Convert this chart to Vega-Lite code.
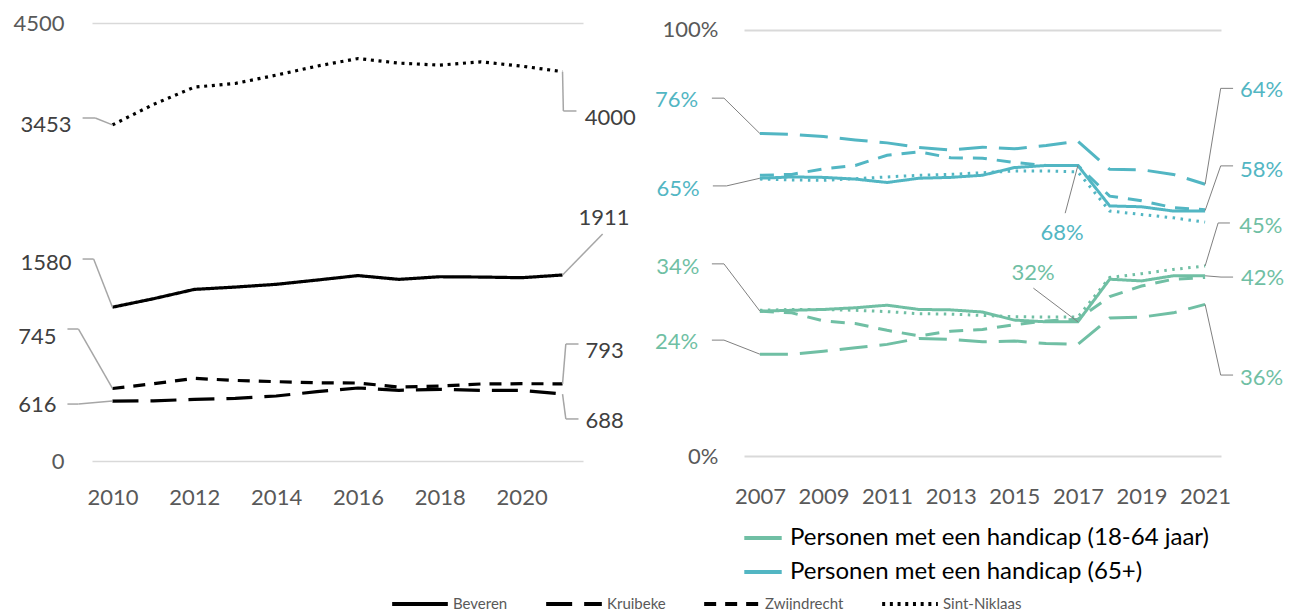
{
  "$schema": "https://vega.github.io/schema/vega-lite/v6.json",
  "background": "white",
  "padding": {"left": 12, "top": 12, "right": 0, "bottom": 0},
  "bounds": "flush",
  "spacing": 161,
  "config": {
    "view": {"stroke": null},
    "font": "Lato",
    "axis": {"labelFont": "Lato", "labelFontSize": 22, "labelColor": "#595959", "ticks": false, "domain": false},
    "text": {"font": "Lato"}
  },
  "resolve": {"scale": {"color": "independent", "strokeDash": "independent"}, "legend": {"color": "independent", "strokeDash": "independent"}},
  "datasets": {
    "abs": [
      {"gemeente": "Beveren", "jaar": 2010, "aantal": 1580},
      {"gemeente": "Beveren", "jaar": 2011, "aantal": 1667},
      {"gemeente": "Beveren", "jaar": 2012, "aantal": 1763},
      {"gemeente": "Beveren", "jaar": 2013, "aantal": 1787},
      {"gemeente": "Beveren", "jaar": 2014, "aantal": 1815},
      {"gemeente": "Beveren", "jaar": 2015, "aantal": 1859},
      {"gemeente": "Beveren", "jaar": 2016, "aantal": 1905},
      {"gemeente": "Beveren", "jaar": 2017, "aantal": 1866},
      {"gemeente": "Beveren", "jaar": 2018, "aantal": 1893},
      {"gemeente": "Beveren", "jaar": 2019, "aantal": 1890},
      {"gemeente": "Beveren", "jaar": 2020, "aantal": 1883},
      {"gemeente": "Beveren", "jaar": 2021, "aantal": 1911},
      {"gemeente": "Kruibeke", "jaar": 2010, "aantal": 616},
      {"gemeente": "Kruibeke", "jaar": 2011, "aantal": 618},
      {"gemeente": "Kruibeke", "jaar": 2012, "aantal": 633},
      {"gemeente": "Kruibeke", "jaar": 2013, "aantal": 644},
      {"gemeente": "Kruibeke", "jaar": 2014, "aantal": 668},
      {"gemeente": "Kruibeke", "jaar": 2015, "aantal": 712},
      {"gemeente": "Kruibeke", "jaar": 2016, "aantal": 750},
      {"gemeente": "Kruibeke", "jaar": 2017, "aantal": 726},
      {"gemeente": "Kruibeke", "jaar": 2018, "aantal": 736},
      {"gemeente": "Kruibeke", "jaar": 2019, "aantal": 726},
      {"gemeente": "Kruibeke", "jaar": 2020, "aantal": 726},
      {"gemeente": "Kruibeke", "jaar": 2021, "aantal": 688},
      {"gemeente": "Zwijndrecht", "jaar": 2010, "aantal": 745},
      {"gemeente": "Zwijndrecht", "jaar": 2011, "aantal": 794},
      {"gemeente": "Zwijndrecht", "jaar": 2012, "aantal": 849},
      {"gemeente": "Zwijndrecht", "jaar": 2013, "aantal": 828},
      {"gemeente": "Zwijndrecht", "jaar": 2014, "aantal": 815},
      {"gemeente": "Zwijndrecht", "jaar": 2015, "aantal": 804},
      {"gemeente": "Zwijndrecht", "jaar": 2016, "aantal": 801},
      {"gemeente": "Zwijndrecht", "jaar": 2017, "aantal": 760},
      {"gemeente": "Zwijndrecht", "jaar": 2018, "aantal": 770},
      {"gemeente": "Zwijndrecht", "jaar": 2019, "aantal": 791},
      {"gemeente": "Zwijndrecht", "jaar": 2020, "aantal": 794},
      {"gemeente": "Zwijndrecht", "jaar": 2021, "aantal": 793},
      {"gemeente": "Sint-Niklaas", "jaar": 2010, "aantal": 3453},
      {"gemeente": "Sint-Niklaas", "jaar": 2011, "aantal": 3663},
      {"gemeente": "Sint-Niklaas", "jaar": 2012, "aantal": 3841},
      {"gemeente": "Sint-Niklaas", "jaar": 2013, "aantal": 3879},
      {"gemeente": "Sint-Niklaas", "jaar": 2014, "aantal": 3964},
      {"gemeente": "Sint-Niklaas", "jaar": 2015, "aantal": 4057},
      {"gemeente": "Sint-Niklaas", "jaar": 2016, "aantal": 4135},
      {"gemeente": "Sint-Niklaas", "jaar": 2017, "aantal": 4088},
      {"gemeente": "Sint-Niklaas", "jaar": 2018, "aantal": 4067},
      {"gemeente": "Sint-Niklaas", "jaar": 2019, "aantal": 4101},
      {"gemeente": "Sint-Niklaas", "jaar": 2020, "aantal": 4057},
      {"gemeente": "Sint-Niklaas", "jaar": 2021, "aantal": 4000}
    ],
    "annL": [
      {"label": "3453", "jaar": 2010, "waarde": 3453, "lx": 2007.75, "ly": 3452, "tx": 2009.27, "ex": 2009.58, "ey": 3524},
      {"label": "1580", "jaar": 2010, "waarde": 1580, "lx": 2007.75, "ly": 2034, "tx": 2009.27, "ex": 2009.54, "ey": 2075},
      {"label": "745", "jaar": 2010, "waarde": 745, "lx": 2007.7, "ly": 1274, "tx": 2008.9, "ex": 2009.17, "ey": 1356},
      {"label": "616", "jaar": 2010, "waarde": 616, "lx": 2007.7, "ly": 575, "tx": 2008.9, "ex": 2009.17, "ey": 585},
      {"label": "4000", "jaar": 2021, "waarde": 4000, "lx": 2021.54, "ly": 3524, "tx": 2021.34, "ex": 2021.02, "ey": 3596},
      {"label": "1911", "jaar": 2021, "waarde": 1911, "lx": 2021.39, "ly": 2497, "tx": 2021.98, "ex": 2021.98, "ey": 2332},
      {"label": "793", "jaar": 2021, "waarde": 793, "lx": 2021.56, "ly": 1130, "tx": 2021.39, "ex": 2021.08, "ey": 1202},
      {"label": "688", "jaar": 2021, "waarde": 688, "lx": 2021.56, "ly": 411, "tx": 2021.39, "ex": 2021.08, "ey": 432}
    ],
    "pct": [
      {"groep": "Personen met een handicap (65+)", "gemeente": "Beveren", "jaar": 2007, "pct": 65.2},
      {"groep": "Personen met een handicap (65+)", "gemeente": "Beveren", "jaar": 2008, "pct": 65.5},
      {"groep": "Personen met een handicap (65+)", "gemeente": "Beveren", "jaar": 2009, "pct": 65.4},
      {"groep": "Personen met een handicap (65+)", "gemeente": "Beveren", "jaar": 2010, "pct": 65.0},
      {"groep": "Personen met een handicap (65+)", "gemeente": "Beveren", "jaar": 2011, "pct": 64.2},
      {"groep": "Personen met een handicap (65+)", "gemeente": "Beveren", "jaar": 2012, "pct": 65.2},
      {"groep": "Personen met een handicap (65+)", "gemeente": "Beveren", "jaar": 2013, "pct": 65.4},
      {"groep": "Personen met een handicap (65+)", "gemeente": "Beveren", "jaar": 2014, "pct": 65.9},
      {"groep": "Personen met een handicap (65+)", "gemeente": "Beveren", "jaar": 2015, "pct": 67.7},
      {"groep": "Personen met een handicap (65+)", "gemeente": "Beveren", "jaar": 2016, "pct": 68.2},
      {"groep": "Personen met een handicap (65+)", "gemeente": "Beveren", "jaar": 2017, "pct": 68.2},
      {"groep": "Personen met een handicap (65+)", "gemeente": "Beveren", "jaar": 2018, "pct": 58.7},
      {"groep": "Personen met een handicap (65+)", "gemeente": "Beveren", "jaar": 2019, "pct": 58.5},
      {"groep": "Personen met een handicap (65+)", "gemeente": "Beveren", "jaar": 2020, "pct": 57.5},
      {"groep": "Personen met een handicap (65+)", "gemeente": "Beveren", "jaar": 2021, "pct": 57.5},
      {"groep": "Personen met een handicap (65+)", "gemeente": "Kruibeke", "jaar": 2007, "pct": 75.7},
      {"groep": "Personen met een handicap (65+)", "gemeente": "Kruibeke", "jaar": 2008, "pct": 75.5},
      {"groep": "Personen met een handicap (65+)", "gemeente": "Kruibeke", "jaar": 2009, "pct": 75.0},
      {"groep": "Personen met een handicap (65+)", "gemeente": "Kruibeke", "jaar": 2010, "pct": 74.2},
      {"groep": "Personen met een handicap (65+)", "gemeente": "Kruibeke", "jaar": 2011, "pct": 73.5},
      {"groep": "Personen met een handicap (65+)", "gemeente": "Kruibeke", "jaar": 2012, "pct": 72.4},
      {"groep": "Personen met een handicap (65+)", "gemeente": "Kruibeke", "jaar": 2013, "pct": 71.8},
      {"groep": "Personen met een handicap (65+)", "gemeente": "Kruibeke", "jaar": 2014, "pct": 72.5},
      {"groep": "Personen met een handicap (65+)", "gemeente": "Kruibeke", "jaar": 2015, "pct": 72.1},
      {"groep": "Personen met een handicap (65+)", "gemeente": "Kruibeke", "jaar": 2016, "pct": 72.9},
      {"groep": "Personen met een handicap (65+)", "gemeente": "Kruibeke", "jaar": 2017, "pct": 73.9},
      {"groep": "Personen met een handicap (65+)", "gemeente": "Kruibeke", "jaar": 2018, "pct": 67.3},
      {"groep": "Personen met een handicap (65+)", "gemeente": "Kruibeke", "jaar": 2019, "pct": 67.2},
      {"groep": "Personen met een handicap (65+)", "gemeente": "Kruibeke", "jaar": 2020, "pct": 66.1},
      {"groep": "Personen met een handicap (65+)", "gemeente": "Kruibeke", "jaar": 2021, "pct": 63.8},
      {"groep": "Personen met een handicap (65+)", "gemeente": "Zwijndrecht", "jaar": 2007, "pct": 65.9},
      {"groep": "Personen met een handicap (65+)", "gemeente": "Zwijndrecht", "jaar": 2008, "pct": 66.1},
      {"groep": "Personen met een handicap (65+)", "gemeente": "Zwijndrecht", "jaar": 2009, "pct": 67.4},
      {"groep": "Personen met een handicap (65+)", "gemeente": "Zwijndrecht", "jaar": 2010, "pct": 68.2},
      {"groep": "Personen met een handicap (65+)", "gemeente": "Zwijndrecht", "jaar": 2011, "pct": 70.6},
      {"groep": "Personen met een handicap (65+)", "gemeente": "Zwijndrecht", "jaar": 2012, "pct": 71.4},
      {"groep": "Personen met een handicap (65+)", "gemeente": "Zwijndrecht", "jaar": 2013, "pct": 70.0},
      {"groep": "Personen met een handicap (65+)", "gemeente": "Zwijndrecht", "jaar": 2014, "pct": 69.9},
      {"groep": "Personen met een handicap (65+)", "gemeente": "Zwijndrecht", "jaar": 2015, "pct": 68.9},
      {"groep": "Personen met een handicap (65+)", "gemeente": "Zwijndrecht", "jaar": 2016, "pct": 68.2},
      {"groep": "Personen met een handicap (65+)", "gemeente": "Zwijndrecht", "jaar": 2017, "pct": 68.2},
      {"groep": "Personen met een handicap (65+)", "gemeente": "Zwijndrecht", "jaar": 2018, "pct": 61.0},
      {"groep": "Personen met een handicap (65+)", "gemeente": "Zwijndrecht", "jaar": 2019, "pct": 59.9},
      {"groep": "Personen met een handicap (65+)", "gemeente": "Zwijndrecht", "jaar": 2020, "pct": 58.3},
      {"groep": "Personen met een handicap (65+)", "gemeente": "Zwijndrecht", "jaar": 2021, "pct": 57.8},
      {"groep": "Personen met een handicap (65+)", "gemeente": "Sint-Niklaas", "jaar": 2007, "pct": 65.0},
      {"groep": "Personen met een handicap (65+)", "gemeente": "Sint-Niklaas", "jaar": 2008, "pct": 64.8},
      {"groep": "Personen met een handicap (65+)", "gemeente": "Sint-Niklaas", "jaar": 2009, "pct": 64.7},
      {"groep": "Personen met een handicap (65+)", "gemeente": "Sint-Niklaas", "jaar": 2010, "pct": 65.1},
      {"groep": "Personen met een handicap (65+)", "gemeente": "Sint-Niklaas", "jaar": 2011, "pct": 65.5},
      {"groep": "Personen met een handicap (65+)", "gemeente": "Sint-Niklaas", "jaar": 2012, "pct": 65.9},
      {"groep": "Personen met een handicap (65+)", "gemeente": "Sint-Niklaas", "jaar": 2013, "pct": 66.1},
      {"groep": "Personen met een handicap (65+)", "gemeente": "Sint-Niklaas", "jaar": 2014, "pct": 66.5},
      {"groep": "Personen met een handicap (65+)", "gemeente": "Sint-Niklaas", "jaar": 2015, "pct": 66.9},
      {"groep": "Personen met een handicap (65+)", "gemeente": "Sint-Niklaas", "jaar": 2016, "pct": 66.9},
      {"groep": "Personen met een handicap (65+)", "gemeente": "Sint-Niklaas", "jaar": 2017, "pct": 66.7},
      {"groep": "Personen met een handicap (65+)", "gemeente": "Sint-Niklaas", "jaar": 2018, "pct": 57.5},
      {"groep": "Personen met een handicap (65+)", "gemeente": "Sint-Niklaas", "jaar": 2019, "pct": 56.7},
      {"groep": "Personen met een handicap (65+)", "gemeente": "Sint-Niklaas", "jaar": 2020, "pct": 55.9},
      {"groep": "Personen met een handicap (65+)", "gemeente": "Sint-Niklaas", "jaar": 2021, "pct": 54.9},
      {"groep": "Personen met een handicap (18-64 jaar)", "gemeente": "Beveren", "jaar": 2007, "pct": 34.0},
      {"groep": "Personen met een handicap (18-64 jaar)", "gemeente": "Beveren", "jaar": 2008, "pct": 34.2},
      {"groep": "Personen met een handicap (18-64 jaar)", "gemeente": "Beveren", "jaar": 2009, "pct": 34.4},
      {"groep": "Personen met een handicap (18-64 jaar)", "gemeente": "Beveren", "jaar": 2010, "pct": 34.8},
      {"groep": "Personen met een handicap (18-64 jaar)", "gemeente": "Beveren", "jaar": 2011, "pct": 35.4},
      {"groep": "Personen met een handicap (18-64 jaar)", "gemeente": "Beveren", "jaar": 2012, "pct": 34.4},
      {"groep": "Personen met een handicap (18-64 jaar)", "gemeente": "Beveren", "jaar": 2013, "pct": 34.3},
      {"groep": "Personen met een handicap (18-64 jaar)", "gemeente": "Beveren", "jaar": 2014, "pct": 33.8},
      {"groep": "Personen met een handicap (18-64 jaar)", "gemeente": "Beveren", "jaar": 2015, "pct": 31.9},
      {"groep": "Personen met een handicap (18-64 jaar)", "gemeente": "Beveren", "jaar": 2016, "pct": 31.5},
      {"groep": "Personen met een handicap (18-64 jaar)", "gemeente": "Beveren", "jaar": 2017, "pct": 31.5},
      {"groep": "Personen met een handicap (18-64 jaar)", "gemeente": "Beveren", "jaar": 2018, "pct": 41.5},
      {"groep": "Personen met een handicap (18-64 jaar)", "gemeente": "Beveren", "jaar": 2019, "pct": 41.1},
      {"groep": "Personen met een handicap (18-64 jaar)", "gemeente": "Beveren", "jaar": 2020, "pct": 42.3},
      {"groep": "Personen met een handicap (18-64 jaar)", "gemeente": "Beveren", "jaar": 2021, "pct": 42.3},
      {"groep": "Personen met een handicap (18-64 jaar)", "gemeente": "Kruibeke", "jaar": 2007, "pct": 23.9},
      {"groep": "Personen met een handicap (18-64 jaar)", "gemeente": "Kruibeke", "jaar": 2008, "pct": 23.9},
      {"groep": "Personen met een handicap (18-64 jaar)", "gemeente": "Kruibeke", "jaar": 2009, "pct": 24.6},
      {"groep": "Personen met een handicap (18-64 jaar)", "gemeente": "Kruibeke", "jaar": 2010, "pct": 25.4},
      {"groep": "Personen met een handicap (18-64 jaar)", "gemeente": "Kruibeke", "jaar": 2011, "pct": 26.2},
      {"groep": "Personen met een handicap (18-64 jaar)", "gemeente": "Kruibeke", "jaar": 2012, "pct": 27.6},
      {"groep": "Personen met een handicap (18-64 jaar)", "gemeente": "Kruibeke", "jaar": 2013, "pct": 27.4},
      {"groep": "Personen met een handicap (18-64 jaar)", "gemeente": "Kruibeke", "jaar": 2014, "pct": 26.8},
      {"groep": "Personen met een handicap (18-64 jaar)", "gemeente": "Kruibeke", "jaar": 2015, "pct": 27.0},
      {"groep": "Personen met een handicap (18-64 jaar)", "gemeente": "Kruibeke", "jaar": 2016, "pct": 26.4},
      {"groep": "Personen met een handicap (18-64 jaar)", "gemeente": "Kruibeke", "jaar": 2017, "pct": 26.2},
      {"groep": "Personen met een handicap (18-64 jaar)", "gemeente": "Kruibeke", "jaar": 2018, "pct": 32.4},
      {"groep": "Personen met een handicap (18-64 jaar)", "gemeente": "Kruibeke", "jaar": 2019, "pct": 32.6},
      {"groep": "Personen met een handicap (18-64 jaar)", "gemeente": "Kruibeke", "jaar": 2020, "pct": 33.6},
      {"groep": "Personen met een handicap (18-64 jaar)", "gemeente": "Kruibeke", "jaar": 2021, "pct": 35.6},
      {"groep": "Personen met een handicap (18-64 jaar)", "gemeente": "Zwijndrecht", "jaar": 2007, "pct": 34.0},
      {"groep": "Personen met een handicap (18-64 jaar)", "gemeente": "Zwijndrecht", "jaar": 2008, "pct": 33.6},
      {"groep": "Personen met een handicap (18-64 jaar)", "gemeente": "Zwijndrecht", "jaar": 2009, "pct": 31.7},
      {"groep": "Personen met een handicap (18-64 jaar)", "gemeente": "Zwijndrecht", "jaar": 2010, "pct": 31.1},
      {"groep": "Personen met een handicap (18-64 jaar)", "gemeente": "Zwijndrecht", "jaar": 2011, "pct": 29.5},
      {"groep": "Personen met een handicap (18-64 jaar)", "gemeente": "Zwijndrecht", "jaar": 2012, "pct": 28.2},
      {"groep": "Personen met een handicap (18-64 jaar)", "gemeente": "Zwijndrecht", "jaar": 2013, "pct": 29.3},
      {"groep": "Personen met een handicap (18-64 jaar)", "gemeente": "Zwijndrecht", "jaar": 2014, "pct": 29.7},
      {"groep": "Personen met een handicap (18-64 jaar)", "gemeente": "Zwijndrecht", "jaar": 2015, "pct": 30.8},
      {"groep": "Personen met een handicap (18-64 jaar)", "gemeente": "Zwijndrecht", "jaar": 2016, "pct": 31.7},
      {"groep": "Personen met een handicap (18-64 jaar)", "gemeente": "Zwijndrecht", "jaar": 2017, "pct": 32.1},
      {"groep": "Personen met een handicap (18-64 jaar)", "gemeente": "Zwijndrecht", "jaar": 2018, "pct": 37.4},
      {"groep": "Personen met een handicap (18-64 jaar)", "gemeente": "Zwijndrecht", "jaar": 2019, "pct": 39.9},
      {"groep": "Personen met een handicap (18-64 jaar)", "gemeente": "Zwijndrecht", "jaar": 2020, "pct": 41.5},
      {"groep": "Personen met een handicap (18-64 jaar)", "gemeente": "Zwijndrecht", "jaar": 2021, "pct": 41.9},
      {"groep": "Personen met een handicap (18-64 jaar)", "gemeente": "Sint-Niklaas", "jaar": 2007, "pct": 34.2},
      {"groep": "Personen met een handicap (18-64 jaar)", "gemeente": "Sint-Niklaas", "jaar": 2008, "pct": 34.4},
      {"groep": "Personen met een handicap (18-64 jaar)", "gemeente": "Sint-Niklaas", "jaar": 2009, "pct": 34.4},
      {"groep": "Personen met een handicap (18-64 jaar)", "gemeente": "Sint-Niklaas", "jaar": 2010, "pct": 34.2},
      {"groep": "Personen met een handicap (18-64 jaar)", "gemeente": "Sint-Niklaas", "jaar": 2011, "pct": 33.9},
      {"groep": "Personen met een handicap (18-64 jaar)", "gemeente": "Sint-Niklaas", "jaar": 2012, "pct": 33.4},
      {"groep": "Personen met een handicap (18-64 jaar)", "gemeente": "Sint-Niklaas", "jaar": 2013, "pct": 33.3},
      {"groep": "Personen met een handicap (18-64 jaar)", "gemeente": "Sint-Niklaas", "jaar": 2014, "pct": 33.0},
      {"groep": "Personen met een handicap (18-64 jaar)", "gemeente": "Sint-Niklaas", "jaar": 2015, "pct": 32.7},
      {"groep": "Personen met een handicap (18-64 jaar)", "gemeente": "Sint-Niklaas", "jaar": 2016, "pct": 32.6},
      {"groep": "Personen met een handicap (18-64 jaar)", "gemeente": "Sint-Niklaas", "jaar": 2017, "pct": 32.6},
      {"groep": "Personen met een handicap (18-64 jaar)", "gemeente": "Sint-Niklaas", "jaar": 2018, "pct": 41.9},
      {"groep": "Personen met een handicap (18-64 jaar)", "gemeente": "Sint-Niklaas", "jaar": 2019, "pct": 42.8},
      {"groep": "Personen met een handicap (18-64 jaar)", "gemeente": "Sint-Niklaas", "jaar": 2020, "pct": 43.8},
      {"groep": "Personen met een handicap (18-64 jaar)", "gemeente": "Sint-Niklaas", "jaar": 2021, "pct": 44.6}
    ],
    "annR": [
      {"label": "76%", "groep": "Personen met een handicap (65+)", "jaar": 2007, "waarde": 75.7, "lx": 2003.7, "ly": 83.6, "tx": 2005.49, "ex": 2005.87, "ey": 84.0},
      {"label": "65%", "groep": "Personen met een handicap (65+)", "jaar": 2007, "waarde": 65.2, "lx": 2003.75, "ly": 62.7, "tx": 2005.52, "ex": 2005.95, "ey": 63.4},
      {"label": "34%", "groep": "Personen met een handicap (18-64 jaar)", "jaar": 2007, "waarde": 34.0, "lx": 2003.74, "ly": 44.4, "tx": 2005.49, "ex": 2005.87, "ey": 45.1},
      {"label": "24%", "groep": "Personen met een handicap (18-64 jaar)", "jaar": 2007, "waarde": 23.9, "lx": 2003.7, "ly": 26.8, "tx": 2005.49, "ex": 2005.87, "ey": 27.2},
      {"label": "64%", "groep": "Personen met een handicap (65+)", "jaar": 2021, "waarde": 63.8, "lx": 2022.1, "ly": 85.9, "tx": 2021.88, "ex": 2021.49, "ey": 86.3},
      {"label": "58%", "groep": "Personen met een handicap (65+)", "jaar": 2021, "waarde": 57.6, "lx": 2022.1, "ly": 67.1, "tx": 2021.88, "ex": 2021.49, "ey": 68.1},
      {"label": "45%", "groep": "Personen met een handicap (18-64 jaar)", "jaar": 2021, "waarde": 44.6, "lx": 2022.07, "ly": 54.0, "tx": 2021.78, "ex": 2021.41, "ey": 54.7},
      {"label": "42%", "groep": "Personen met een handicap (18-64 jaar)", "jaar": 2021, "waarde": 42.3, "lx": 2022.13, "ly": 41.8, "tx": 2021.88, "ex": 2021.5, "ey": 42.0},
      {"label": "36%", "groep": "Personen met een handicap (18-64 jaar)", "jaar": 2021, "waarde": 35.6, "lx": 2022.1, "ly": 18.3, "tx": 2021.88, "ex": 2021.49, "ey": 19.0},
      {"label": "68%", "groep": "Personen met een handicap (65+)", "jaar": 2017, "waarde": 68.2, "lx": 2015.82, "ly": 52.3, "tx": 2016.6, "ex": 2016.6, "ey": 57.0},
      {"label": "32%", "groep": "Personen met een handicap (18-64 jaar)", "jaar": 2017, "waarde": 31.5, "lx": 2014.91, "ly": 43.0, "tx": 2015.6, "ex": 2015.6, "ey": 39.4}
    ]
  },
  "hconcat": [
    {
      "width": 491,
      "height": 438,
      "layer": [
        {
          "data": {"name": "abs"},
          "mark": {"type": "line", "color": "black", "strokeWidth": 3.2},
          "encoding": {
            "x": {"field": "jaar", "type": "quantitative", "title": null, "scale": {"domain": [2009.5, 2021.5], "nice": false, "zero": false},
                  "axis": {"values": [2010, 2012, 2014, 2016, 2018, 2020], "format": "d", "grid": false, "labelPadding": 26, "title": null}},
            "y": {"field": "aantal", "type": "quantitative", "title": null, "scale": {"domain": [0, 4500], "nice": false},
                  "axis": {"values": [0, 4500], "grid": true, "gridColor": "#d9d9d9", "gridWidth": 1.5, "labelPadding": 28, "format": "d", "title": null}},
            "strokeDash": {"field": "gemeente", "type": "nominal",
              "scale": {"domain": ["Beveren", "Kruibeke", "Zwijndrecht", "Sint-Niklaas"], "range": [[1, 0], [26, 12], [12, 9], [3, 4.7]]},
              "legend": {"orient": "none", "legendX": 298, "legendY": 551, "direction": "horizontal", "title": null,
                "symbolType": "stroke", "symbolSize": 3100, "symbolStrokeWidth": 4, "symbolStrokeColor": "black",
                "labelFont": "Lato", "labelFontSize": 15, "labelColor": "#595959", "labelOffset": 3, "columnPadding": 30}}
          }
        },
        {
          "data": {"name": "annL"},
          "mark": {"type": "rule", "color": "#a6a6a6", "strokeWidth": 1.5},
          "encoding": {
            "x": {"field": "tx", "type": "quantitative", "title": null},
            "x2": {"field": "ex"},
            "y": {"field": "ey", "type": "quantitative", "title": null}
          }
        },
        {
          "data": {"name": "annL"},
          "mark": {"type": "rule", "color": "#a6a6a6", "strokeWidth": 1.5},
          "encoding": {
            "x": {"field": "ex", "type": "quantitative", "title": null},
            "x2": {"field": "jaar"},
            "y": {"field": "ey", "type": "quantitative", "title": null},
            "y2": {"field": "waarde"}
          }
        },
        {
          "data": {"name": "annL"},
          "mark": {"type": "text", "align": "left", "baseline": "middle", "fontSize": 22, "color": "#404040"},
          "encoding": {
            "x": {"field": "lx", "type": "quantitative", "title": null},
            "y": {"field": "ly", "type": "quantitative", "title": null},
            "text": {"field": "label"}
          }
        }
      ]
    },
    {
      "width": 477,
      "height": 433,
      "layer": [
        {
          "data": {"name": "pct"},
          "mark": {"type": "line", "strokeWidth": 3},
          "encoding": {
            "x": {"field": "jaar", "type": "quantitative", "title": null, "scale": {"domain": [2006.5, 2021.5], "nice": false, "zero": false},
                  "axis": {"values": [2007, 2009, 2011, 2013, 2015, 2017, 2019, 2021], "format": "d", "grid": false, "labelPadding": 30, "title": null}},
            "y": {"field": "pct", "type": "quantitative", "title": null, "scale": {"domain": [0, 101.64], "nice": false},
                  "axis": {"values": [0, 100], "grid": true, "gridColor": "#d9d9d9", "gridWidth": 2, "labelPadding": 26, "labelExpr": "datum.value + '%'", "title": null}},
            "color": {"field": "groep", "type": "nominal",
              "scale": {"domain": ["Personen met een handicap (18-64 jaar)", "Personen met een handicap (65+)"], "range": ["#70bfa4", "#52b6c3"]},
              "legend": {"orient": "none", "legendX": -2, "legendY": 494, "direction": "vertical", "title": null,
                "symbolType": "stroke", "symbolSize": 1400, "symbolStrokeWidth": 4,
                "labelFont": "Lato", "labelFontSize": 24, "labelColor": "#000000", "labelOffset": 6, "rowPadding": 1, "labelLimit": 600}},
            "strokeDash": {"field": "gemeente", "type": "nominal",
              "scale": {"domain": ["Beveren", "Kruibeke", "Zwijndrecht", "Sint-Niklaas"], "range": [[1, 0], [28, 12], [14, 10], [2.5, 5.5]]},
              "legend": null},
            "detail": {"field": "groep"}
          }
        },
        {
          "data": {"name": "annR"},
          "mark": {"type": "rule", "color": "#808080", "strokeWidth": 1},
          "encoding": {
            "x": {"field": "tx", "type": "quantitative", "title": null},
            "x2": {"field": "ex"},
            "y": {"field": "ey", "type": "quantitative", "title": null}
          }
        },
        {
          "data": {"name": "annR"},
          "mark": {"type": "rule", "color": "#808080", "strokeWidth": 1},
          "encoding": {
            "x": {"field": "ex", "type": "quantitative", "title": null},
            "x2": {"field": "jaar"},
            "y": {"field": "ey", "type": "quantitative", "title": null},
            "y2": {"field": "waarde"}
          }
        },
        {
          "data": {"name": "annR"},
          "mark": {"type": "text", "align": "left", "baseline": "middle", "fontSize": 22},
          "encoding": {
            "x": {"field": "lx", "type": "quantitative", "title": null},
            "y": {"field": "ly", "type": "quantitative", "title": null},
            "text": {"field": "label"},
            "color": {"field": "groep", "type": "nominal", "legend": null}
          }
        }
      ]
    }
  ]
}
